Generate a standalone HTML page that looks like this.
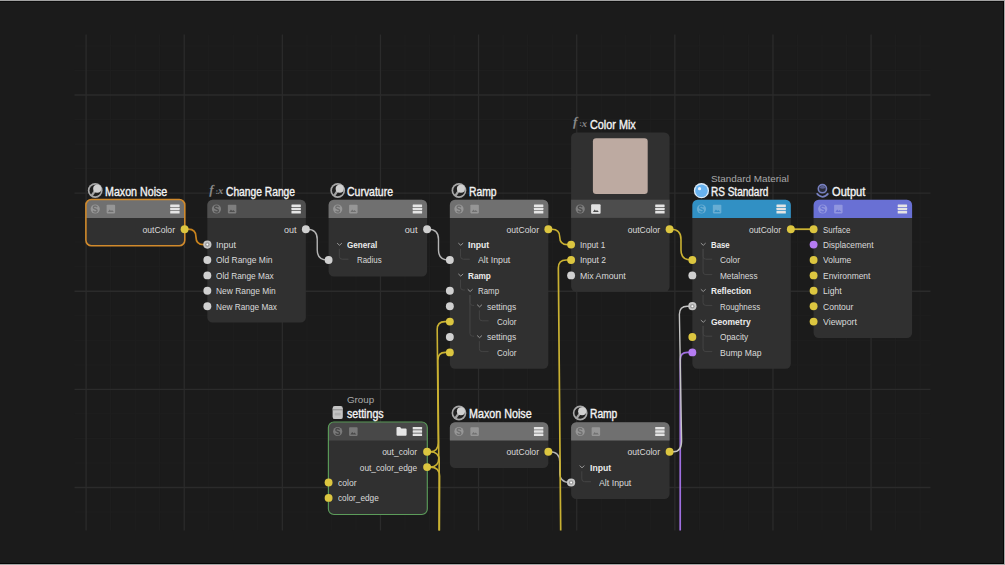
<!DOCTYPE html>
<html><head><meta charset="utf-8"><title>Node Editor</title>
<style>
html,body{margin:0;padding:0;background:#1b1b1b;}
body{width:1005px;height:565px;position:relative;overflow:hidden;font-family:"Liberation Sans",sans-serif;}
svg{position:absolute;left:0;top:0;}
.t{position:absolute;white-space:nowrap;display:block;}
.edge{position:absolute;}
</style></head><body>
<svg width="1005" height="565" viewBox="0 0 1005 565">
<rect width="1005" height="565" fill="#1b1b1b"/>
<g>
<line x1="110.63" y1="34.5" x2="110.63" y2="530.5" stroke="#1f1f1f" stroke-width="1"/>
<line x1="135.16" y1="34.5" x2="135.16" y2="530.5" stroke="#1f1f1f" stroke-width="1"/>
<line x1="159.69" y1="34.5" x2="159.69" y2="530.5" stroke="#1f1f1f" stroke-width="1"/>
<line x1="208.75" y1="34.5" x2="208.75" y2="530.5" stroke="#1f1f1f" stroke-width="1"/>
<line x1="233.28" y1="34.5" x2="233.28" y2="530.5" stroke="#1f1f1f" stroke-width="1"/>
<line x1="257.81" y1="34.5" x2="257.81" y2="530.5" stroke="#1f1f1f" stroke-width="1"/>
<line x1="306.87" y1="34.5" x2="306.87" y2="530.5" stroke="#1f1f1f" stroke-width="1"/>
<line x1="331.40" y1="34.5" x2="331.40" y2="530.5" stroke="#1f1f1f" stroke-width="1"/>
<line x1="355.93" y1="34.5" x2="355.93" y2="530.5" stroke="#1f1f1f" stroke-width="1"/>
<line x1="404.99" y1="34.5" x2="404.99" y2="530.5" stroke="#1f1f1f" stroke-width="1"/>
<line x1="429.52" y1="34.5" x2="429.52" y2="530.5" stroke="#1f1f1f" stroke-width="1"/>
<line x1="454.05" y1="34.5" x2="454.05" y2="530.5" stroke="#1f1f1f" stroke-width="1"/>
<line x1="503.11" y1="34.5" x2="503.11" y2="530.5" stroke="#1f1f1f" stroke-width="1"/>
<line x1="527.64" y1="34.5" x2="527.64" y2="530.5" stroke="#1f1f1f" stroke-width="1"/>
<line x1="552.17" y1="34.5" x2="552.17" y2="530.5" stroke="#1f1f1f" stroke-width="1"/>
<line x1="601.23" y1="34.5" x2="601.23" y2="530.5" stroke="#1f1f1f" stroke-width="1"/>
<line x1="625.76" y1="34.5" x2="625.76" y2="530.5" stroke="#1f1f1f" stroke-width="1"/>
<line x1="650.29" y1="34.5" x2="650.29" y2="530.5" stroke="#1f1f1f" stroke-width="1"/>
<line x1="699.35" y1="34.5" x2="699.35" y2="530.5" stroke="#1f1f1f" stroke-width="1"/>
<line x1="723.88" y1="34.5" x2="723.88" y2="530.5" stroke="#1f1f1f" stroke-width="1"/>
<line x1="748.41" y1="34.5" x2="748.41" y2="530.5" stroke="#1f1f1f" stroke-width="1"/>
<line x1="797.47" y1="34.5" x2="797.47" y2="530.5" stroke="#1f1f1f" stroke-width="1"/>
<line x1="822.00" y1="34.5" x2="822.00" y2="530.5" stroke="#1f1f1f" stroke-width="1"/>
<line x1="846.53" y1="34.5" x2="846.53" y2="530.5" stroke="#1f1f1f" stroke-width="1"/>
<line x1="895.59" y1="34.5" x2="895.59" y2="530.5" stroke="#1f1f1f" stroke-width="1"/>
<line x1="920.12" y1="34.5" x2="920.12" y2="530.5" stroke="#1f1f1f" stroke-width="1"/>
<line x1="74.5" y1="45.94" x2="930.5" y2="45.94" stroke="#1f1f1f" stroke-width="1"/>
<line x1="74.5" y1="70.47" x2="930.5" y2="70.47" stroke="#1f1f1f" stroke-width="1"/>
<line x1="74.5" y1="119.53" x2="930.5" y2="119.53" stroke="#1f1f1f" stroke-width="1"/>
<line x1="74.5" y1="144.06" x2="930.5" y2="144.06" stroke="#1f1f1f" stroke-width="1"/>
<line x1="74.5" y1="168.59" x2="930.5" y2="168.59" stroke="#1f1f1f" stroke-width="1"/>
<line x1="74.5" y1="217.65" x2="930.5" y2="217.65" stroke="#1f1f1f" stroke-width="1"/>
<line x1="74.5" y1="242.18" x2="930.5" y2="242.18" stroke="#1f1f1f" stroke-width="1"/>
<line x1="74.5" y1="266.71" x2="930.5" y2="266.71" stroke="#1f1f1f" stroke-width="1"/>
<line x1="74.5" y1="315.77" x2="930.5" y2="315.77" stroke="#1f1f1f" stroke-width="1"/>
<line x1="74.5" y1="340.30" x2="930.5" y2="340.30" stroke="#1f1f1f" stroke-width="1"/>
<line x1="74.5" y1="364.83" x2="930.5" y2="364.83" stroke="#1f1f1f" stroke-width="1"/>
<line x1="74.5" y1="413.89" x2="930.5" y2="413.89" stroke="#1f1f1f" stroke-width="1"/>
<line x1="74.5" y1="438.42" x2="930.5" y2="438.42" stroke="#1f1f1f" stroke-width="1"/>
<line x1="74.5" y1="462.95" x2="930.5" y2="462.95" stroke="#1f1f1f" stroke-width="1"/>
<line x1="74.5" y1="512.01" x2="930.5" y2="512.01" stroke="#1f1f1f" stroke-width="1"/>
<line x1="86.10" y1="34.5" x2="86.10" y2="530.5" stroke="#2b2b2b" stroke-width="1.3"/>
<line x1="184.22" y1="34.5" x2="184.22" y2="530.5" stroke="#2b2b2b" stroke-width="1.3"/>
<line x1="282.34" y1="34.5" x2="282.34" y2="530.5" stroke="#2b2b2b" stroke-width="1.3"/>
<line x1="380.46" y1="34.5" x2="380.46" y2="530.5" stroke="#2b2b2b" stroke-width="1.3"/>
<line x1="478.58" y1="34.5" x2="478.58" y2="530.5" stroke="#2b2b2b" stroke-width="1.3"/>
<line x1="576.70" y1="34.5" x2="576.70" y2="530.5" stroke="#2b2b2b" stroke-width="1.3"/>
<line x1="674.82" y1="34.5" x2="674.82" y2="530.5" stroke="#2b2b2b" stroke-width="1.3"/>
<line x1="772.94" y1="34.5" x2="772.94" y2="530.5" stroke="#2b2b2b" stroke-width="1.3"/>
<line x1="871.06" y1="34.5" x2="871.06" y2="530.5" stroke="#2b2b2b" stroke-width="1.3"/>
<line x1="74.5" y1="95.00" x2="930.5" y2="95.00" stroke="#2b2b2b" stroke-width="1.3"/>
<line x1="74.5" y1="193.12" x2="930.5" y2="193.12" stroke="#2b2b2b" stroke-width="1.3"/>
<line x1="74.5" y1="291.24" x2="930.5" y2="291.24" stroke="#2b2b2b" stroke-width="1.3"/>
<line x1="74.5" y1="389.36" x2="930.5" y2="389.36" stroke="#2b2b2b" stroke-width="1.3"/>
<line x1="74.5" y1="487.48" x2="930.5" y2="487.48" stroke="#2b2b2b" stroke-width="1.3"/>
</g>
<g>
<rect x="86.10" y="199.70" width="98.5" height="45.90" rx="5.2" fill="#303030"/>
<path d="M86.10,217.90 V204.90 a5.2,5.2 0 0 1 5.2,-5.2 H179.40 a5.2,5.2 0 0 1 5.2,5.2 V217.90 Z" fill="#707070"/>
<rect x="85.90" y="199.50" width="98.90" height="46.30" rx="5.5" fill="none" stroke="#d18a2c" stroke-width="1.6"/>
<circle cx="95.20" cy="209.00" r="4.6" fill="#969696"/><path transform="translate(95.20,209.00)" d="M1.9,-1.8 Q1.5,-3.0 0,-3.0 Q-1.9,-3.0 -1.9,-1.5 Q-1.9,-0.4 0,0 Q1.9,0.4 1.9,1.5 Q1.9,3.0 0,3.0 Q-1.6,3.0 -2.0,1.7" fill="none" stroke="#707070" stroke-width="1.3"/><rect x="106.60" y="204.70" width="8.5" height="8.7" rx="0.8" fill="#969696"/><path d="M107.90,211.90 l1.8,-2.4 l1.3,1.5 l1.0,-1.1 l1.9,2.0 z" fill="#707070"/><rect x="170.20" y="204.50" width="9.4" height="2.5" rx="0.5" fill="#e4e4e4"/><rect x="170.20" y="207.80" width="9.4" height="2.5" rx="0.5" fill="#e4e4e4"/><rect x="170.20" y="211.10" width="9.4" height="2.5" rx="0.5" fill="#e4e4e4"/>
<g transform="translate(95.20,190.50)"><circle r="7.4" fill="#a8a8a8"/><circle r="5.75" fill="#202020"/><path d="M-0.4,0.6 L-3.7,5.4" stroke="#a2a2a2" stroke-width="2.3" fill="none"/><circle cx="2.0" cy="-1.8" r="4.05" fill="#d0d0d0"/></g>
<rect x="207.35" y="199.70" width="98.5" height="122.90" rx="5.2" fill="#303030"/>
<path d="M207.35,217.90 V204.90 a5.2,5.2 0 0 1 5.2,-5.2 H300.65 a5.2,5.2 0 0 1 5.2,5.2 V217.90 Z" fill="#4f4f4f"/>
<circle cx="216.45" cy="209.00" r="4.6" fill="#7e7e7e"/><path transform="translate(216.45,209.00)" d="M1.9,-1.8 Q1.5,-3.0 0,-3.0 Q-1.9,-3.0 -1.9,-1.5 Q-1.9,-0.4 0,0 Q1.9,0.4 1.9,1.5 Q1.9,3.0 0,3.0 Q-1.6,3.0 -2.0,1.7" fill="none" stroke="#4f4f4f" stroke-width="1.3"/><rect x="227.85" y="204.70" width="8.5" height="8.7" rx="0.8" fill="#7e7e7e"/><path d="M229.15,211.90 l1.8,-2.4 l1.3,1.5 l1.0,-1.1 l1.9,2.0 z" fill="#4f4f4f"/><rect x="291.45" y="204.50" width="9.4" height="2.5" rx="0.5" fill="#e4e4e4"/><rect x="291.45" y="207.80" width="9.4" height="2.5" rx="0.5" fill="#e4e4e4"/><rect x="291.45" y="211.10" width="9.4" height="2.5" rx="0.5" fill="#e4e4e4"/>
<g fill="#878787" font-family="Liberation Serif" font-style="italic" font-weight="bold" style="text-rendering:geometricPrecision"><text x="209.15" y="193.70" font-size="13">f</text><text x="215.45" y="193.60" font-size="8" font-style="normal">:</text><text x="217.95" y="194.00" font-size="10.5">x</text></g>
<rect x="328.60" y="199.70" width="98.5" height="76.70" rx="5.2" fill="#303030"/>
<path d="M328.60,217.90 V204.90 a5.2,5.2 0 0 1 5.2,-5.2 H421.90 a5.2,5.2 0 0 1 5.2,5.2 V217.90 Z" fill="#707070"/>
<circle cx="337.70" cy="209.00" r="4.6" fill="#969696"/><path transform="translate(337.70,209.00)" d="M1.9,-1.8 Q1.5,-3.0 0,-3.0 Q-1.9,-3.0 -1.9,-1.5 Q-1.9,-0.4 0,0 Q1.9,0.4 1.9,1.5 Q1.9,3.0 0,3.0 Q-1.6,3.0 -2.0,1.7" fill="none" stroke="#707070" stroke-width="1.3"/><rect x="349.10" y="204.70" width="8.5" height="8.7" rx="0.8" fill="#969696"/><path d="M350.40,211.90 l1.8,-2.4 l1.3,1.5 l1.0,-1.1 l1.9,2.0 z" fill="#707070"/><rect x="412.70" y="204.50" width="9.4" height="2.5" rx="0.5" fill="#e4e4e4"/><rect x="412.70" y="207.80" width="9.4" height="2.5" rx="0.5" fill="#e4e4e4"/><rect x="412.70" y="211.10" width="9.4" height="2.5" rx="0.5" fill="#e4e4e4"/>
<g transform="translate(337.70,190.50)"><circle r="7.4" fill="#a8a8a8"/><circle r="5.75" fill="#202020"/><path d="M-0.4,0.6 L-3.7,5.4" stroke="#a2a2a2" stroke-width="2.3" fill="none"/><circle cx="2.0" cy="-1.8" r="4.05" fill="#d0d0d0"/></g>
<rect x="449.85" y="199.70" width="98.5" height="169.10" rx="5.2" fill="#303030"/>
<path d="M449.85,217.90 V204.90 a5.2,5.2 0 0 1 5.2,-5.2 H543.15 a5.2,5.2 0 0 1 5.2,5.2 V217.90 Z" fill="#707070"/>
<circle cx="458.95" cy="209.00" r="4.6" fill="#969696"/><path transform="translate(458.95,209.00)" d="M1.9,-1.8 Q1.5,-3.0 0,-3.0 Q-1.9,-3.0 -1.9,-1.5 Q-1.9,-0.4 0,0 Q1.9,0.4 1.9,1.5 Q1.9,3.0 0,3.0 Q-1.6,3.0 -2.0,1.7" fill="none" stroke="#707070" stroke-width="1.3"/><rect x="470.35" y="204.70" width="8.5" height="8.7" rx="0.8" fill="#969696"/><path d="M471.65,211.90 l1.8,-2.4 l1.3,1.5 l1.0,-1.1 l1.9,2.0 z" fill="#707070"/><rect x="533.95" y="204.50" width="9.4" height="2.5" rx="0.5" fill="#e4e4e4"/><rect x="533.95" y="207.80" width="9.4" height="2.5" rx="0.5" fill="#e4e4e4"/><rect x="533.95" y="211.10" width="9.4" height="2.5" rx="0.5" fill="#e4e4e4"/>
<g transform="translate(458.95,190.50)"><circle r="7.4" fill="#a8a8a8"/><circle r="5.75" fill="#202020"/><path d="M-0.4,0.6 L-3.7,5.4" stroke="#a2a2a2" stroke-width="2.3" fill="none"/><circle cx="2.0" cy="-1.8" r="4.05" fill="#d0d0d0"/></g>
<rect x="571.10" y="132.40" width="98.5" height="159.40" rx="5.2" fill="#303030"/>
<rect x="571.10" y="199.70" width="98.5" height="18.2" fill="#4d4d4d"/>
<rect x="592.9" y="138.2" width="54.8" height="55.8" rx="3.2" fill="#bdaaa1"/>
<circle cx="580.20" cy="209.00" r="4.6" fill="#7d7d7d"/><path transform="translate(580.20,209.00)" d="M1.9,-1.8 Q1.5,-3.0 0,-3.0 Q-1.9,-3.0 -1.9,-1.5 Q-1.9,-0.4 0,0 Q1.9,0.4 1.9,1.5 Q1.9,3.0 0,3.0 Q-1.6,3.0 -2.0,1.7" fill="none" stroke="#4d4d4d" stroke-width="1.3"/><rect x="591.10" y="204.30" width="9.5" height="9.5" rx="1" fill="#e2e2e2"/><path d="M592.90,211.90 l1.8,-2.4 l1.3,1.5 l1.0,-1.1 l1.9,2.0 z" fill="#4d4d4d"/><rect x="655.20" y="204.50" width="9.4" height="2.5" rx="0.5" fill="#e4e4e4"/><rect x="655.20" y="207.80" width="9.4" height="2.5" rx="0.5" fill="#e4e4e4"/><rect x="655.20" y="211.10" width="9.4" height="2.5" rx="0.5" fill="#e4e4e4"/>
<g fill="#878787" font-family="Liberation Serif" font-style="italic" font-weight="bold" style="text-rendering:geometricPrecision"><text x="572.90" y="126.40" font-size="13">f</text><text x="579.20" y="126.30" font-size="8" font-style="normal">:</text><text x="581.70" y="126.70" font-size="10.5">x</text></g>
<rect x="692.35" y="199.70" width="98.5" height="169.10" rx="5.2" fill="#303030"/>
<path d="M692.35,217.90 V204.90 a5.2,5.2 0 0 1 5.2,-5.2 H785.65 a5.2,5.2 0 0 1 5.2,5.2 V217.90 Z" fill="#3190c4"/>
<circle cx="701.45" cy="209.00" r="4.6" fill="#68add3"/><path transform="translate(701.45,209.00)" d="M1.9,-1.8 Q1.5,-3.0 0,-3.0 Q-1.9,-3.0 -1.9,-1.5 Q-1.9,-0.4 0,0 Q1.9,0.4 1.9,1.5 Q1.9,3.0 0,3.0 Q-1.6,3.0 -2.0,1.7" fill="none" stroke="#3190c4" stroke-width="1.3"/><rect x="712.85" y="204.70" width="8.5" height="8.7" rx="0.8" fill="#68add3"/><path d="M714.15,211.90 l1.8,-2.4 l1.3,1.5 l1.0,-1.1 l1.9,2.0 z" fill="#3190c4"/><rect x="776.45" y="204.50" width="9.4" height="2.5" rx="0.5" fill="#e4e4e4"/><rect x="776.45" y="207.80" width="9.4" height="2.5" rx="0.5" fill="#e4e4e4"/><rect x="776.45" y="211.10" width="9.4" height="2.5" rx="0.5" fill="#e4e4e4"/>
<g transform="translate(701.45,190.70)"><circle r="7.6" fill="#dcebf7"/><circle r="6.3" fill="#68b2ef"/><circle cx="-1.9" cy="-2.0" r="1.6" fill="#e4f2fd"/></g>
<rect x="813.60" y="199.70" width="98.5" height="138.30" rx="5.2" fill="#303030"/>
<path d="M813.60,217.90 V204.90 a5.2,5.2 0 0 1 5.2,-5.2 H906.90 a5.2,5.2 0 0 1 5.2,5.2 V217.90 Z" fill="#6970d4"/>
<circle cx="822.70" cy="209.00" r="4.6" fill="#9196df"/><path transform="translate(822.70,209.00)" d="M1.9,-1.8 Q1.5,-3.0 0,-3.0 Q-1.9,-3.0 -1.9,-1.5 Q-1.9,-0.4 0,0 Q1.9,0.4 1.9,1.5 Q1.9,3.0 0,3.0 Q-1.6,3.0 -2.0,1.7" fill="none" stroke="#6970d4" stroke-width="1.3"/><rect x="834.10" y="204.70" width="8.5" height="8.7" rx="0.8" fill="#9196df"/><path d="M835.40,211.90 l1.8,-2.4 l1.3,1.5 l1.0,-1.1 l1.9,2.0 z" fill="#6970d4"/><rect x="897.70" y="204.50" width="9.4" height="2.5" rx="0.5" fill="#e4e4e4"/><rect x="897.70" y="207.80" width="9.4" height="2.5" rx="0.5" fill="#e4e4e4"/><rect x="897.70" y="211.10" width="9.4" height="2.5" rx="0.5" fill="#e4e4e4"/>
<g transform="translate(822.70,190.10)" fill="none" stroke="#7780c0" stroke-width="1.6"><circle cx="-0.3" cy="-1.4" r="4.1" fill="#2a2c3c"/><path d="M-3.3,-2.3 A3.4,3.4 0 0 1 3.0,-2.3 Q-0.2,-0.6 -3.3,-2.3Z" fill="#5a6090" stroke="none"/><path d="M-6.0,3.2 Q-0.3,10.2 5.6,3.2" stroke-width="1.8"/></g>
<rect x="328.60" y="422.20" width="98.5" height="92.10" rx="5.2" fill="#303030"/>
<path d="M328.60,440.40 V427.40 a5.2,5.2 0 0 1 5.2,-5.2 H421.90 a5.2,5.2 0 0 1 5.2,5.2 V440.40 Z" fill="#484848"/>
<rect x="328.40" y="422.00" width="98.90" height="92.50" rx="5.5" fill="none" stroke="#5c9c5a" stroke-width="1.15"/>
<circle cx="337.70" cy="431.50" r="4.6" fill="#797979"/><path transform="translate(337.70,431.50)" d="M1.9,-1.8 Q1.5,-3.0 0,-3.0 Q-1.9,-3.0 -1.9,-1.5 Q-1.9,-0.4 0,0 Q1.9,0.4 1.9,1.5 Q1.9,3.0 0,3.0 Q-1.6,3.0 -2.0,1.7" fill="none" stroke="#484848" stroke-width="1.3"/><rect x="349.10" y="427.20" width="8.5" height="8.7" rx="0.8" fill="#797979"/><path d="M350.40,434.40 l1.8,-2.4 l1.3,1.5 l1.0,-1.1 l1.9,2.0 z" fill="#484848"/><rect x="412.70" y="427.00" width="9.4" height="2.5" rx="0.5" fill="#e4e4e4"/><rect x="412.70" y="430.30" width="9.4" height="2.5" rx="0.5" fill="#e4e4e4"/><rect x="412.70" y="433.60" width="9.4" height="2.5" rx="0.5" fill="#e4e4e4"/><path d="M396.50,428.10 q0,-1 1,-1 h2.6 l1.2,1.3 h4.3 q1,0 1,1 v5.4 q0,1 -1,1 h-8.1 q-1,0 -1,-1 z" fill="#e6e6e6"/>
<g transform="translate(337.70,412.60)"><rect x="-5.1" y="-6.5" width="10.2" height="13" rx="2.2" fill="#c4c4c4"/><rect x="-5.1" y="-3.3" width="10.2" height="1" fill="#8c8c8c"/><rect x="-3" y="0.2" width="6" height="2.6" rx="0.6" fill="#b0b0b0"/></g>
<rect x="449.85" y="422.20" width="98.5" height="45.90" rx="5.2" fill="#303030"/>
<path d="M449.85,440.40 V427.40 a5.2,5.2 0 0 1 5.2,-5.2 H543.15 a5.2,5.2 0 0 1 5.2,5.2 V440.40 Z" fill="#707070"/>
<circle cx="458.95" cy="431.50" r="4.6" fill="#969696"/><path transform="translate(458.95,431.50)" d="M1.9,-1.8 Q1.5,-3.0 0,-3.0 Q-1.9,-3.0 -1.9,-1.5 Q-1.9,-0.4 0,0 Q1.9,0.4 1.9,1.5 Q1.9,3.0 0,3.0 Q-1.6,3.0 -2.0,1.7" fill="none" stroke="#707070" stroke-width="1.3"/><rect x="470.35" y="427.20" width="8.5" height="8.7" rx="0.8" fill="#969696"/><path d="M471.65,434.40 l1.8,-2.4 l1.3,1.5 l1.0,-1.1 l1.9,2.0 z" fill="#707070"/><rect x="533.95" y="427.00" width="9.4" height="2.5" rx="0.5" fill="#e4e4e4"/><rect x="533.95" y="430.30" width="9.4" height="2.5" rx="0.5" fill="#e4e4e4"/><rect x="533.95" y="433.60" width="9.4" height="2.5" rx="0.5" fill="#e4e4e4"/>
<g transform="translate(458.95,413.00)"><circle r="7.4" fill="#a8a8a8"/><circle r="5.75" fill="#202020"/><path d="M-0.4,0.6 L-3.7,5.4" stroke="#a2a2a2" stroke-width="2.3" fill="none"/><circle cx="2.0" cy="-1.8" r="4.05" fill="#d0d0d0"/></g>
<rect x="571.10" y="422.20" width="98.5" height="76.70" rx="5.2" fill="#303030"/>
<path d="M571.10,440.40 V427.40 a5.2,5.2 0 0 1 5.2,-5.2 H664.40 a5.2,5.2 0 0 1 5.2,5.2 V440.40 Z" fill="#707070"/>
<circle cx="580.20" cy="431.50" r="4.6" fill="#969696"/><path transform="translate(580.20,431.50)" d="M1.9,-1.8 Q1.5,-3.0 0,-3.0 Q-1.9,-3.0 -1.9,-1.5 Q-1.9,-0.4 0,0 Q1.9,0.4 1.9,1.5 Q1.9,3.0 0,3.0 Q-1.6,3.0 -2.0,1.7" fill="none" stroke="#707070" stroke-width="1.3"/><rect x="591.60" y="427.20" width="8.5" height="8.7" rx="0.8" fill="#969696"/><path d="M592.90,434.40 l1.8,-2.4 l1.3,1.5 l1.0,-1.1 l1.9,2.0 z" fill="#707070"/><rect x="655.20" y="427.00" width="9.4" height="2.5" rx="0.5" fill="#e4e4e4"/><rect x="655.20" y="430.30" width="9.4" height="2.5" rx="0.5" fill="#e4e4e4"/><rect x="655.20" y="433.60" width="9.4" height="2.5" rx="0.5" fill="#e4e4e4"/>
<g transform="translate(580.20,413.00)"><circle r="7.4" fill="#a8a8a8"/><circle r="5.75" fill="#202020"/><path d="M-0.4,0.6 L-3.7,5.4" stroke="#a2a2a2" stroke-width="2.3" fill="none"/><circle cx="2.0" cy="-1.8" r="4.05" fill="#d0d0d0"/></g>
</g>
<g>
<path d="M337.10,243.10 l2.4,2.2 l2.4,-2.2" fill="none" stroke="#969696" stroke-width="1.0"/>
<path d="M339.30,248.80 V256.40 q0,2.8 2.8,2.8 H348.50" fill="none" stroke="#444444" stroke-width="1"/>
<path d="M458.35,243.10 l2.4,2.2 l2.4,-2.2" fill="none" stroke="#969696" stroke-width="1.0"/>
<path d="M458.35,273.90 l2.4,2.2 l2.4,-2.2" fill="none" stroke="#969696" stroke-width="1.0"/>
<path d="M467.75,289.30 l2.4,2.2 l2.4,-2.2" fill="none" stroke="#969696" stroke-width="1.0"/>
<path d="M477.15,304.70 l2.4,2.2 l2.4,-2.2" fill="none" stroke="#969696" stroke-width="1.0"/>
<path d="M477.15,335.50 l2.4,2.2 l2.4,-2.2" fill="none" stroke="#969696" stroke-width="1.0"/>
<path d="M460.55,248.80 V256.40 q0,2.8 2.8,2.8 H469.75" fill="none" stroke="#444444" stroke-width="1"/>
<path d="M460.55,279.60 V287.20 q0,2.8 2.8,2.8 H464.75" fill="none" stroke="#444444" stroke-width="1"/>
<path d="M469.95,295.00 V302.60 q0,2.8 2.8,2.8 H474.15" fill="none" stroke="#444444" stroke-width="1"/>
<path d="M469.95,295.00 V333.40 q0,2.8 2.8,2.8 H474.15" fill="none" stroke="#444444" stroke-width="1"/>
<path d="M479.35,310.40 V318.00 q0,2.8 2.8,2.8 H488.55" fill="none" stroke="#444444" stroke-width="1"/>
<path d="M479.35,341.20 V348.80 q0,2.8 2.8,2.8 H488.55" fill="none" stroke="#444444" stroke-width="1"/>
<path d="M700.85,243.10 l2.4,2.2 l2.4,-2.2" fill="none" stroke="#969696" stroke-width="1.0"/>
<path d="M700.85,289.30 l2.4,2.2 l2.4,-2.2" fill="none" stroke="#969696" stroke-width="1.0"/>
<path d="M700.85,320.10 l2.4,2.2 l2.4,-2.2" fill="none" stroke="#969696" stroke-width="1.0"/>
<path d="M703.05,248.80 V256.40 q0,2.8 2.8,2.8 H712.25" fill="none" stroke="#444444" stroke-width="1"/>
<path d="M703.05,248.80 V271.80 q0,2.8 2.8,2.8 H712.25" fill="none" stroke="#444444" stroke-width="1"/>
<path d="M703.05,295.00 V302.60 q0,2.8 2.8,2.8 H712.25" fill="none" stroke="#444444" stroke-width="1"/>
<path d="M703.05,325.80 V333.40 q0,2.8 2.8,2.8 H712.25" fill="none" stroke="#444444" stroke-width="1"/>
<path d="M703.05,325.80 V348.80 q0,2.8 2.8,2.8 H712.25" fill="none" stroke="#444444" stroke-width="1"/>
<path d="M579.60,465.60 l2.4,2.2 l2.4,-2.2" fill="none" stroke="#969696" stroke-width="1.0"/>
<path d="M581.80,471.30 V478.90 q0,2.8 2.8,2.8 H591.00" fill="none" stroke="#444444" stroke-width="1"/>
</g>
<g stroke-linecap="butt">
<path d="M184.60,229.20 H188.27 Q195.97,229.20 195.97,236.90 V236.90 Q195.97,244.60 203.68,244.60 H207.35" fill="none" stroke="#c9831d" stroke-width="1.7"/>
<path d="M305.85,229.20 H307.23 Q317.23,229.20 317.23,239.20 V250.00 Q317.23,260.00 327.23,260.00 H328.60" fill="none" stroke="#b4b4b4" stroke-width="1.4"/>
<path d="M427.10,229.20 H428.48 Q438.48,229.20 438.48,239.20 V250.00 Q438.48,260.00 448.48,260.00 H449.85" fill="none" stroke="#b4b4b4" stroke-width="1.4"/>
<path d="M548.35,229.20 H552.02 Q559.73,229.20 559.73,236.90 V236.90 Q559.73,244.60 567.43,244.60 H571.10" fill="none" stroke="#c9b132" stroke-width="1.6"/>
<path d="M669.60,229.20 H670.98 Q680.98,229.20 680.98,239.20 V250.00 Q680.98,260.00 690.98,260.00 H692.35" fill="none" stroke="#c9b132" stroke-width="1.6"/>
<path d="M790.85,229.20 H813.60" fill="none" stroke="#c9b132" stroke-width="1.8"/>
<path d="M548.35,451.70 H549.73 Q559.73,451.70 559.73,461.70 V472.50 Q559.73,482.50 569.73,482.50 H571.10" fill="none" stroke="#b4b4b4" stroke-width="1.4"/>
<path d="M571.10,260.00 H566.10 Q558.3,260.00 558.35,268.00 L560.7,530.5" fill="none" stroke="#c9b132" stroke-width="1.7"/>
<path d="M449.85,321.60 H444.85 Q437.2,321.60 437.2,329.60 L438.3,442.70 Q438.3,451.70 430.10,451.70 H427.10" fill="none" stroke="#c9b132" stroke-width="1.6"/>
<path d="M449.85,352.40 H445.35 Q437.8,352.40 437.8,360.40 L438.8,458.10 Q438.8,467.10 430.10,467.10 H427.10" fill="none" stroke="#c9b132" stroke-width="1.6"/>
<path d="M427.10,451.70 H430.10 Q439.2,451.70 439.2,460.70 L439,530.5" fill="none" stroke="#c9b132" stroke-width="1.6"/>
<path d="M427.10,467.10 H430.10 Q439.6,467.10 439.6,476.10 L439.4,530.5" fill="none" stroke="#c9b132" stroke-width="1.6"/>
<path d="M692.35,352.40 H687.35 Q680.3,352.40 680.3,359.40 L680.2,530.5" fill="none" stroke="#9f6fe0" stroke-width="1.7"/>
<path d="M692.35,306.20 H687.35 Q679.4,306.20 679.4,314.20 L681.6,440.70 Q681.6,451.70 673.60,451.70 H669.60" fill="none" stroke="#c4c4c4" stroke-width="1.4"/>
</g>
<g>
<circle cx="184.60" cy="229.20" r="3.95" fill="#dcc640"/>
<circle cx="305.85" cy="229.20" r="3.95" fill="#d0d0d0"/>
<circle cx="207.35" cy="244.60" r="4.1" fill="#c6c6c6"/><circle cx="207.35" cy="244.60" r="2.3" fill="#9a9a9a"/><circle cx="207.35" cy="244.60" r="1.0" fill="#ffffff"/>
<circle cx="207.35" cy="260.00" r="3.95" fill="#d0d0d0"/>
<circle cx="207.35" cy="275.40" r="3.95" fill="#d0d0d0"/>
<circle cx="207.35" cy="290.80" r="3.95" fill="#d0d0d0"/>
<circle cx="207.35" cy="306.20" r="3.95" fill="#d0d0d0"/>
<circle cx="427.10" cy="229.20" r="3.95" fill="#d0d0d0"/>
<circle cx="328.60" cy="260.00" r="3.95" fill="#d0d0d0"/>
<circle cx="548.35" cy="229.20" r="3.95" fill="#dcc640"/>
<circle cx="449.85" cy="260.00" r="3.95" fill="#d0d0d0"/>
<circle cx="449.85" cy="290.80" r="3.95" fill="#d0d0d0"/>
<circle cx="449.85" cy="306.20" r="3.95" fill="#d0d0d0"/>
<circle cx="449.85" cy="321.60" r="3.95" fill="#dcc640"/>
<circle cx="449.85" cy="337.00" r="3.95" fill="#d0d0d0"/>
<circle cx="449.85" cy="352.40" r="3.95" fill="#dcc640"/>
<circle cx="669.60" cy="229.20" r="3.95" fill="#dcc640"/>
<circle cx="571.10" cy="244.60" r="3.95" fill="#dcc640"/>
<circle cx="571.10" cy="260.00" r="3.95" fill="#dcc640"/>
<circle cx="571.10" cy="275.40" r="3.95" fill="#d0d0d0"/>
<circle cx="790.85" cy="229.20" r="3.95" fill="#dcc640"/>
<circle cx="692.35" cy="260.00" r="3.95" fill="#dcc640"/>
<circle cx="692.35" cy="275.40" r="3.95" fill="#d0d0d0"/>
<circle cx="692.35" cy="306.20" r="4.1" fill="#c6c6c6"/><circle cx="692.35" cy="306.20" r="2.3" fill="#9a9a9a"/><circle cx="692.35" cy="306.20" r="1.0" fill="#ffffff"/>
<circle cx="692.35" cy="337.00" r="3.95" fill="#dcc640"/>
<circle cx="692.35" cy="352.40" r="3.95" fill="#b57cf2"/>
<circle cx="813.60" cy="229.20" r="3.95" fill="#dcc640"/>
<circle cx="813.60" cy="244.60" r="3.95" fill="#b57cf2"/>
<circle cx="813.60" cy="260.00" r="3.95" fill="#dcc640"/>
<circle cx="813.60" cy="275.40" r="3.95" fill="#dcc640"/>
<circle cx="813.60" cy="290.80" r="3.95" fill="#dcc640"/>
<circle cx="813.60" cy="306.20" r="3.95" fill="#dcc640"/>
<circle cx="813.60" cy="321.60" r="3.95" fill="#dcc640"/>
<circle cx="427.10" cy="451.70" r="3.95" fill="#dcc640"/>
<circle cx="427.10" cy="467.10" r="3.95" fill="#dcc640"/>
<circle cx="328.60" cy="482.50" r="3.95" fill="#dcc640"/>
<circle cx="328.60" cy="497.90" r="3.95" fill="#dcc640"/>
<circle cx="548.35" cy="451.70" r="3.95" fill="#dcc640"/>
<circle cx="669.60" cy="451.70" r="3.95" fill="#dcc640"/>
<circle cx="571.10" cy="482.50" r="4.1" fill="#c6c6c6"/><circle cx="571.10" cy="482.50" r="2.3" fill="#9a9a9a"/><circle cx="571.10" cy="482.50" r="1.0" fill="#ffffff"/>
</g>
<!-- window frame -->
<rect x="0" y="0" width="1005" height="1" fill="#a2a2a2"/>
<rect x="0" y="1" width="1005" height="1" fill="#0c0c0c"/>
<rect x="1003" y="1" width="1" height="563" fill="#060606"/>
<rect x="0" y="563" width="1004" height="1" fill="#060606"/>
<rect x="1004" y="0" width="1" height="565" fill="#a6a6a6"/>
<rect x="0" y="564" width="1005" height="1" fill="#a6a6a6"/>
</svg>
<span class="t" style="left:104.80px;top:184.94px;font-size:12px;line-height:14.40px;font-weight:normal;color:#f4f4f4;transform:scaleX(0.8896);transform-origin:0 0;-webkit-text-stroke:0.35px #f4f4f4;">Maxon Noise</span>
<span class="t" style="right:830.00px;top:224.63px;font-size:9px;line-height:10.80px;font-weight:normal;color:#dadada;transform:scaleX(0.9553);transform-origin:100% 0;">outColor</span>
<span class="t" style="left:226.05px;top:184.94px;font-size:12px;line-height:14.40px;font-weight:normal;color:#f4f4f4;transform:scaleX(0.8547);transform-origin:0 0;-webkit-text-stroke:0.35px #f4f4f4;">Change Range</span>
<span class="t" style="right:708.75px;top:224.63px;font-size:9px;line-height:10.80px;font-weight:normal;color:#dadada;transform:scaleX(0.9991);transform-origin:100% 0;">out</span>
<span class="t" style="left:216.25px;top:240.03px;font-size:9px;line-height:10.80px;font-weight:normal;color:#dadada;transform:scaleX(0.9991);transform-origin:0 0;">Input</span>
<span class="t" style="left:216.25px;top:255.43px;font-size:9px;line-height:10.80px;font-weight:normal;color:#dadada;transform:scaleX(0.9412);transform-origin:0 0;">Old Range Min</span>
<span class="t" style="left:216.25px;top:270.83px;font-size:9px;line-height:10.80px;font-weight:normal;color:#dadada;transform:scaleX(0.9227);transform-origin:0 0;">Old Range Max</span>
<span class="t" style="left:216.25px;top:286.23px;font-size:9px;line-height:10.80px;font-weight:normal;color:#dadada;transform:scaleX(0.9339);transform-origin:0 0;">New Range Min</span>
<span class="t" style="left:216.25px;top:301.63px;font-size:9px;line-height:10.80px;font-weight:normal;color:#dadada;transform:scaleX(0.9169);transform-origin:0 0;">New Range Max</span>
<span class="t" style="left:347.30px;top:184.94px;font-size:12px;line-height:14.40px;font-weight:normal;color:#f4f4f4;transform:scaleX(0.8730);transform-origin:0 0;-webkit-text-stroke:0.35px #f4f4f4;">Curvature</span>
<span class="t" style="right:587.50px;top:224.63px;font-size:9px;line-height:10.80px;font-weight:normal;color:#dadada;transform:scaleX(1.0231);transform-origin:100% 0;">out</span>
<span class="t" style="left:347.10px;top:240.03px;font-size:9px;line-height:10.80px;font-weight:bold;color:#ececec;transform:scaleX(0.9040);transform-origin:0 0;">General</span>
<span class="t" style="left:356.50px;top:255.43px;font-size:9px;line-height:10.80px;font-weight:normal;color:#dadada;transform:scaleX(0.8781);transform-origin:0 0;">Radius</span>
<span class="t" style="left:468.55px;top:184.94px;font-size:12px;line-height:14.40px;font-weight:normal;color:#f4f4f4;transform:scaleX(0.8591);transform-origin:0 0;-webkit-text-stroke:0.35px #f4f4f4;">Ramp</span>
<span class="t" style="right:466.25px;top:224.63px;font-size:9px;line-height:10.80px;font-weight:normal;color:#dadada;transform:scaleX(0.9553);transform-origin:100% 0;">outColor</span>
<span class="t" style="left:468.35px;top:240.03px;font-size:9px;line-height:10.80px;font-weight:bold;color:#ececec;transform:scaleX(0.9595);transform-origin:0 0;">Input</span>
<span class="t" style="left:477.75px;top:255.43px;font-size:9px;line-height:10.80px;font-weight:normal;color:#dadada;transform:scaleX(0.9782);transform-origin:0 0;">Alt Input</span>
<span class="t" style="left:468.35px;top:270.83px;font-size:9px;line-height:10.80px;font-weight:bold;color:#ececec;transform:scaleX(0.9158);transform-origin:0 0;">Ramp</span>
<span class="t" style="left:477.75px;top:286.23px;font-size:9px;line-height:10.80px;font-weight:normal;color:#dadada;transform:scaleX(0.8789);transform-origin:0 0;">Ramp</span>
<span class="t" style="left:487.15px;top:301.63px;font-size:9px;line-height:10.80px;font-weight:normal;color:#dadada;transform:scaleX(0.9414);transform-origin:0 0;">settings</span>
<span class="t" style="left:496.55px;top:317.03px;font-size:9px;line-height:10.80px;font-weight:normal;color:#dadada;transform:scaleX(0.9020);transform-origin:0 0;">Color</span>
<span class="t" style="left:487.15px;top:332.43px;font-size:9px;line-height:10.80px;font-weight:normal;color:#dadada;transform:scaleX(0.9414);transform-origin:0 0;">settings</span>
<span class="t" style="left:496.55px;top:347.83px;font-size:9px;line-height:10.80px;font-weight:normal;color:#dadada;transform:scaleX(0.9020);transform-origin:0 0;">Color</span>
<span class="t" style="left:589.80px;top:117.64px;font-size:12px;line-height:14.40px;font-weight:normal;color:#f4f4f4;transform:scaleX(0.9038);transform-origin:0 0;-webkit-text-stroke:0.35px #f4f4f4;">Color Mix</span>
<span class="t" style="right:345.00px;top:224.63px;font-size:9px;line-height:10.80px;font-weight:normal;color:#dadada;transform:scaleX(0.9495);transform-origin:100% 0;">outColor</span>
<span class="t" style="left:580.00px;top:240.03px;font-size:9px;line-height:10.80px;font-weight:normal;color:#dadada;transform:scaleX(0.9192);transform-origin:0 0;">Input 1</span>
<span class="t" style="left:580.00px;top:255.43px;font-size:9px;line-height:10.80px;font-weight:normal;color:#dadada;transform:scaleX(0.9483);transform-origin:0 0;">Input 2</span>
<span class="t" style="left:580.00px;top:270.83px;font-size:9px;line-height:10.80px;font-weight:normal;color:#dadada;transform:scaleX(0.9741);transform-origin:0 0;">Mix Amount</span>
<span class="t" style="left:711.05px;top:184.94px;font-size:12px;line-height:14.40px;font-weight:normal;color:#f4f4f4;transform:scaleX(0.8339);transform-origin:0 0;-webkit-text-stroke:0.35px #f4f4f4;">RS Standard</span>
<span class="t" style="left:711.05px;top:172.51px;font-size:9.6px;line-height:11.52px;font-weight:normal;color:#a9a9a9;transform:scaleX(1.0293);transform-origin:0 0;">Standard Material</span>
<span class="t" style="right:223.75px;top:224.63px;font-size:9px;line-height:10.80px;font-weight:normal;color:#dadada;transform:scaleX(0.9436);transform-origin:100% 0;">outColor</span>
<span class="t" style="left:710.85px;top:240.03px;font-size:9px;line-height:10.80px;font-weight:bold;color:#ececec;transform:scaleX(0.8691);transform-origin:0 0;">Base</span>
<span class="t" style="left:720.25px;top:255.43px;font-size:9px;line-height:10.80px;font-weight:normal;color:#dadada;transform:scaleX(0.9252);transform-origin:0 0;">Color</span>
<span class="t" style="left:720.25px;top:270.83px;font-size:9px;line-height:10.80px;font-weight:normal;color:#dadada;transform:scaleX(0.9166);transform-origin:0 0;">Metalness</span>
<span class="t" style="left:710.85px;top:286.23px;font-size:9px;line-height:10.80px;font-weight:bold;color:#ececec;transform:scaleX(0.9217);transform-origin:0 0;">Reflection</span>
<span class="t" style="left:720.25px;top:301.63px;font-size:9px;line-height:10.80px;font-weight:normal;color:#dadada;transform:scaleX(0.8807);transform-origin:0 0;">Roughness</span>
<span class="t" style="left:710.85px;top:317.03px;font-size:9px;line-height:10.80px;font-weight:bold;color:#ececec;transform:scaleX(0.9449);transform-origin:0 0;">Geometry</span>
<span class="t" style="left:720.25px;top:332.43px;font-size:9px;line-height:10.80px;font-weight:normal;color:#dadada;transform:scaleX(0.9242);transform-origin:0 0;">Opacity</span>
<span class="t" style="left:720.25px;top:347.83px;font-size:9px;line-height:10.80px;font-weight:normal;color:#dadada;transform:scaleX(0.9513);transform-origin:0 0;">Bump Map</span>
<span class="t" style="left:832.30px;top:184.94px;font-size:12px;line-height:14.40px;font-weight:normal;color:#f4f4f4;transform:scaleX(0.9272);transform-origin:0 0;-webkit-text-stroke:0.35px #f4f4f4;">Output</span>
<span class="t" style="left:822.50px;top:224.63px;font-size:9px;line-height:10.80px;font-weight:normal;color:#dadada;transform:scaleX(0.8801);transform-origin:0 0;">Surface</span>
<span class="t" style="left:822.50px;top:240.03px;font-size:9px;line-height:10.80px;font-weight:normal;color:#dadada;transform:scaleX(0.9262);transform-origin:0 0;">Displacement</span>
<span class="t" style="left:822.50px;top:255.43px;font-size:9px;line-height:10.80px;font-weight:normal;color:#dadada;transform:scaleX(0.9427);transform-origin:0 0;">Volume</span>
<span class="t" style="left:822.50px;top:270.83px;font-size:9px;line-height:10.80px;font-weight:normal;color:#dadada;transform:scaleX(0.9381);transform-origin:0 0;">Environment</span>
<span class="t" style="left:822.50px;top:286.23px;font-size:9px;line-height:10.80px;font-weight:normal;color:#dadada;transform:scaleX(0.9582);transform-origin:0 0;">Light</span>
<span class="t" style="left:822.50px;top:301.63px;font-size:9px;line-height:10.80px;font-weight:normal;color:#dadada;transform:scaleX(0.9494);transform-origin:0 0;">Contour</span>
<span class="t" style="left:822.50px;top:317.03px;font-size:9px;line-height:10.80px;font-weight:normal;color:#dadada;transform:scaleX(0.9726);transform-origin:0 0;">Viewport</span>
<span class="t" style="left:347.30px;top:406.64px;font-size:12px;line-height:14.40px;font-weight:normal;color:#f4f4f4;transform:scaleX(0.8850);transform-origin:0 0;-webkit-text-stroke:0.35px #f4f4f4;">settings</span>
<span class="t" style="left:347.30px;top:394.21px;font-size:9.6px;line-height:11.52px;font-weight:normal;color:#a9a9a9;transform:scaleX(1.0194);transform-origin:0 0;">Group</span>
<span class="t" style="right:587.50px;top:447.13px;font-size:9px;line-height:10.80px;font-weight:normal;color:#dadada;transform:scaleX(0.9426);transform-origin:100% 0;">out_color</span>
<span class="t" style="right:587.50px;top:462.53px;font-size:9px;line-height:10.80px;font-weight:normal;color:#dadada;transform:scaleX(0.9234);transform-origin:100% 0;">out_color_edge</span>
<span class="t" style="left:337.50px;top:477.93px;font-size:9px;line-height:10.80px;font-weight:normal;color:#dadada;transform:scaleX(0.9483);transform-origin:0 0;">color</span>
<span class="t" style="left:337.50px;top:493.33px;font-size:9px;line-height:10.80px;font-weight:normal;color:#dadada;transform:scaleX(0.9139);transform-origin:0 0;">color_edge</span>
<span class="t" style="left:468.55px;top:406.64px;font-size:12px;line-height:14.40px;font-weight:normal;color:#f4f4f4;transform:scaleX(0.8939);transform-origin:0 0;-webkit-text-stroke:0.35px #f4f4f4;">Maxon Noise</span>
<span class="t" style="right:466.25px;top:447.13px;font-size:9px;line-height:10.80px;font-weight:normal;color:#dadada;transform:scaleX(0.9553);transform-origin:100% 0;">outColor</span>
<span class="t" style="left:589.80px;top:406.64px;font-size:12px;line-height:14.40px;font-weight:normal;color:#f4f4f4;transform:scaleX(0.8528);transform-origin:0 0;-webkit-text-stroke:0.35px #f4f4f4;">Ramp</span>
<span class="t" style="right:345.00px;top:447.13px;font-size:9px;line-height:10.80px;font-weight:normal;color:#dadada;transform:scaleX(0.9553);transform-origin:100% 0;">outColor</span>
<span class="t" style="left:589.60px;top:462.53px;font-size:9px;line-height:10.80px;font-weight:bold;color:#ececec;transform:scaleX(0.9595);transform-origin:0 0;">Input</span>
<span class="t" style="left:599.00px;top:477.93px;font-size:9px;line-height:10.80px;font-weight:normal;color:#dadada;transform:scaleX(0.9782);transform-origin:0 0;">Alt Input</span>
</body></html>
